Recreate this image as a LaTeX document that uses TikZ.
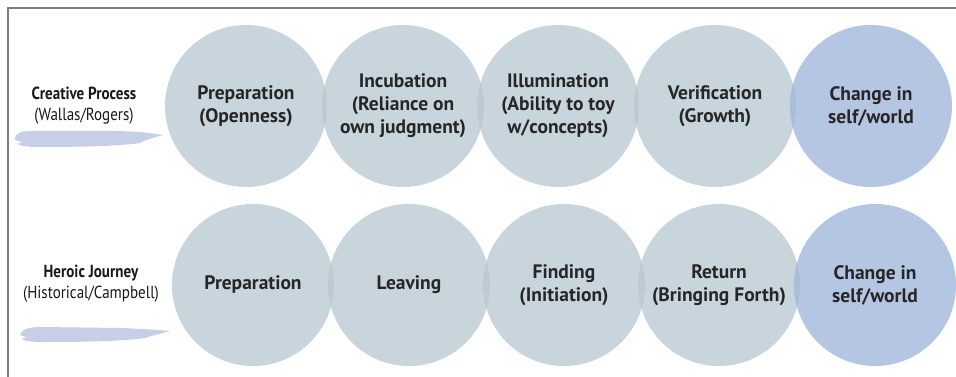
\documentclass[tikz,border=0pt]{standalone}
\usepackage{fontspec}
\setmainfont{PT Sans}
\newfontfamily\labelfont{PT Sans}[FakeStretch=0.86]
\begin{document}
\begin{tikzpicture}[x=1pt,y=-1pt,
  stage/.style={circle,minimum size=162pt,inner sep=0pt,align=center,
    font=\fontsize{19.5}{23}\selectfont\bfseries,text=black!85},
  stagegrey/.style={stage,fill=stagefill},
  stageblue/.style={stage,fill=endfill},
  rowlabel/.style={align=center,text=black!90,font=\labelfont\fontsize{17.5}{21}\selectfont},
  brush/.style={fill=brushfill}]
\definecolor{stagefill}{RGB}{201,213,220}
\definecolor{endfill}{RGB}{181,198,227}
\definecolor{lensgrey}{RGB}{189,202,211}
\definecolor{lensblue}{RGB}{170,188,214}
\definecolor{brushfill}{RGB}{198,206,232}
\definecolor{framegrey}{RGB}{125,125,125}
\useasboundingbox (0,0) rectangle (956,377);
\fill[white] (0,0) rectangle (956,377);

% frame on the top and left sides
\draw[framegrey,line width=1.8pt] (8,377) -- (8,8) -- (956,8);

% circle discs first, so the overlap lenses sit under the text
\foreach \x/\y/\c in {246/106/stagefill,403/106/stagefill,558/106/stagefill,715/106/stagefill,871/106/endfill,
                      253/285/stagefill,409/285/stagefill,564/285/stagefill,719/285/stagefill,875/285/endfill}
  \fill[\c] (\x,\y) circle (81pt);

% darker lenses where neighbouring circles overlap
\foreach \xa/\xb/\y/\c in {246/403/106/lensgrey,403/558/106/lensgrey,558/715/106/lensgrey,715/871/106/lensblue,
                           253/409/285/lensgrey,409/564/285/lensgrey,564/719/285/lensgrey,719/875/285/lensblue}{
  \begin{scope}
    \clip (\xa,\y) circle (81pt);
    \fill[\c] (\xb,\y) circle (81pt);
  \end{scope}
}

% top row: creative process
\node[stage] (p1) at (246,106) {Preparation\\(Openness)};
\node[stage] (p2) at (403,106) {Incubation\\(Reliance on\\own judgment)};
\node[stage] (p3) at (558,106) {Illumination\\(Ability to toy\\w/concepts)};
\node[stage] (p4) at (715,106) {Verification\\(Growth)};
\node[stage] (p5) at (871,106) {Change in\\self/world};

% bottom row: heroic journey
\node[stage] (h1) at (253,285) {Preparation};
\node[stage] (h2) at (409,285) {Leaving};
\node[stage] (h3) at (564,285) {Finding\\(Initiation)};
\node[stage] (h4) at (719,285) {Return\\(Bringing Forth)};
\node[stage] (h5) at (875,285) {Change in\\self/world};

% row labels with brush strokes underneath
\node[rowlabel] (l1) at (84,106) {\textbf{Creative Process}\\(Wallas/Rogers)};
\node[rowlabel] (l2) at (91,284) {\textbf{Heroic Journey}\\(Historical/Campbell)};

\fill[brush] (15,138) .. controls (16,134) and (20,131) .. (30,131)
  -- (110,131) .. controls (135,131) and (150,133) .. (163,135)
  .. controls (152,138) and (145,140) .. (140,143)
  .. controls (120,146) and (80,147) .. (40,147)
  .. controls (28,147) and (20,146) .. (18,144)
  -- (22,142) -- (15,140) -- cycle;
\fill[brush] (20,335) .. controls (21,330) and (28,327) .. (40,327)
  -- (120,328) .. controls (145,329) and (158,330) .. (170,331)
  .. controls (160,334) and (150,336) .. (145,338)
  .. controls (125,341) and (85,342) .. (45,342)
  .. controls (32,342) and (24,341) .. (22,339)
  -- (26,337) -- cycle;
\end{tikzpicture}
\end{document}
